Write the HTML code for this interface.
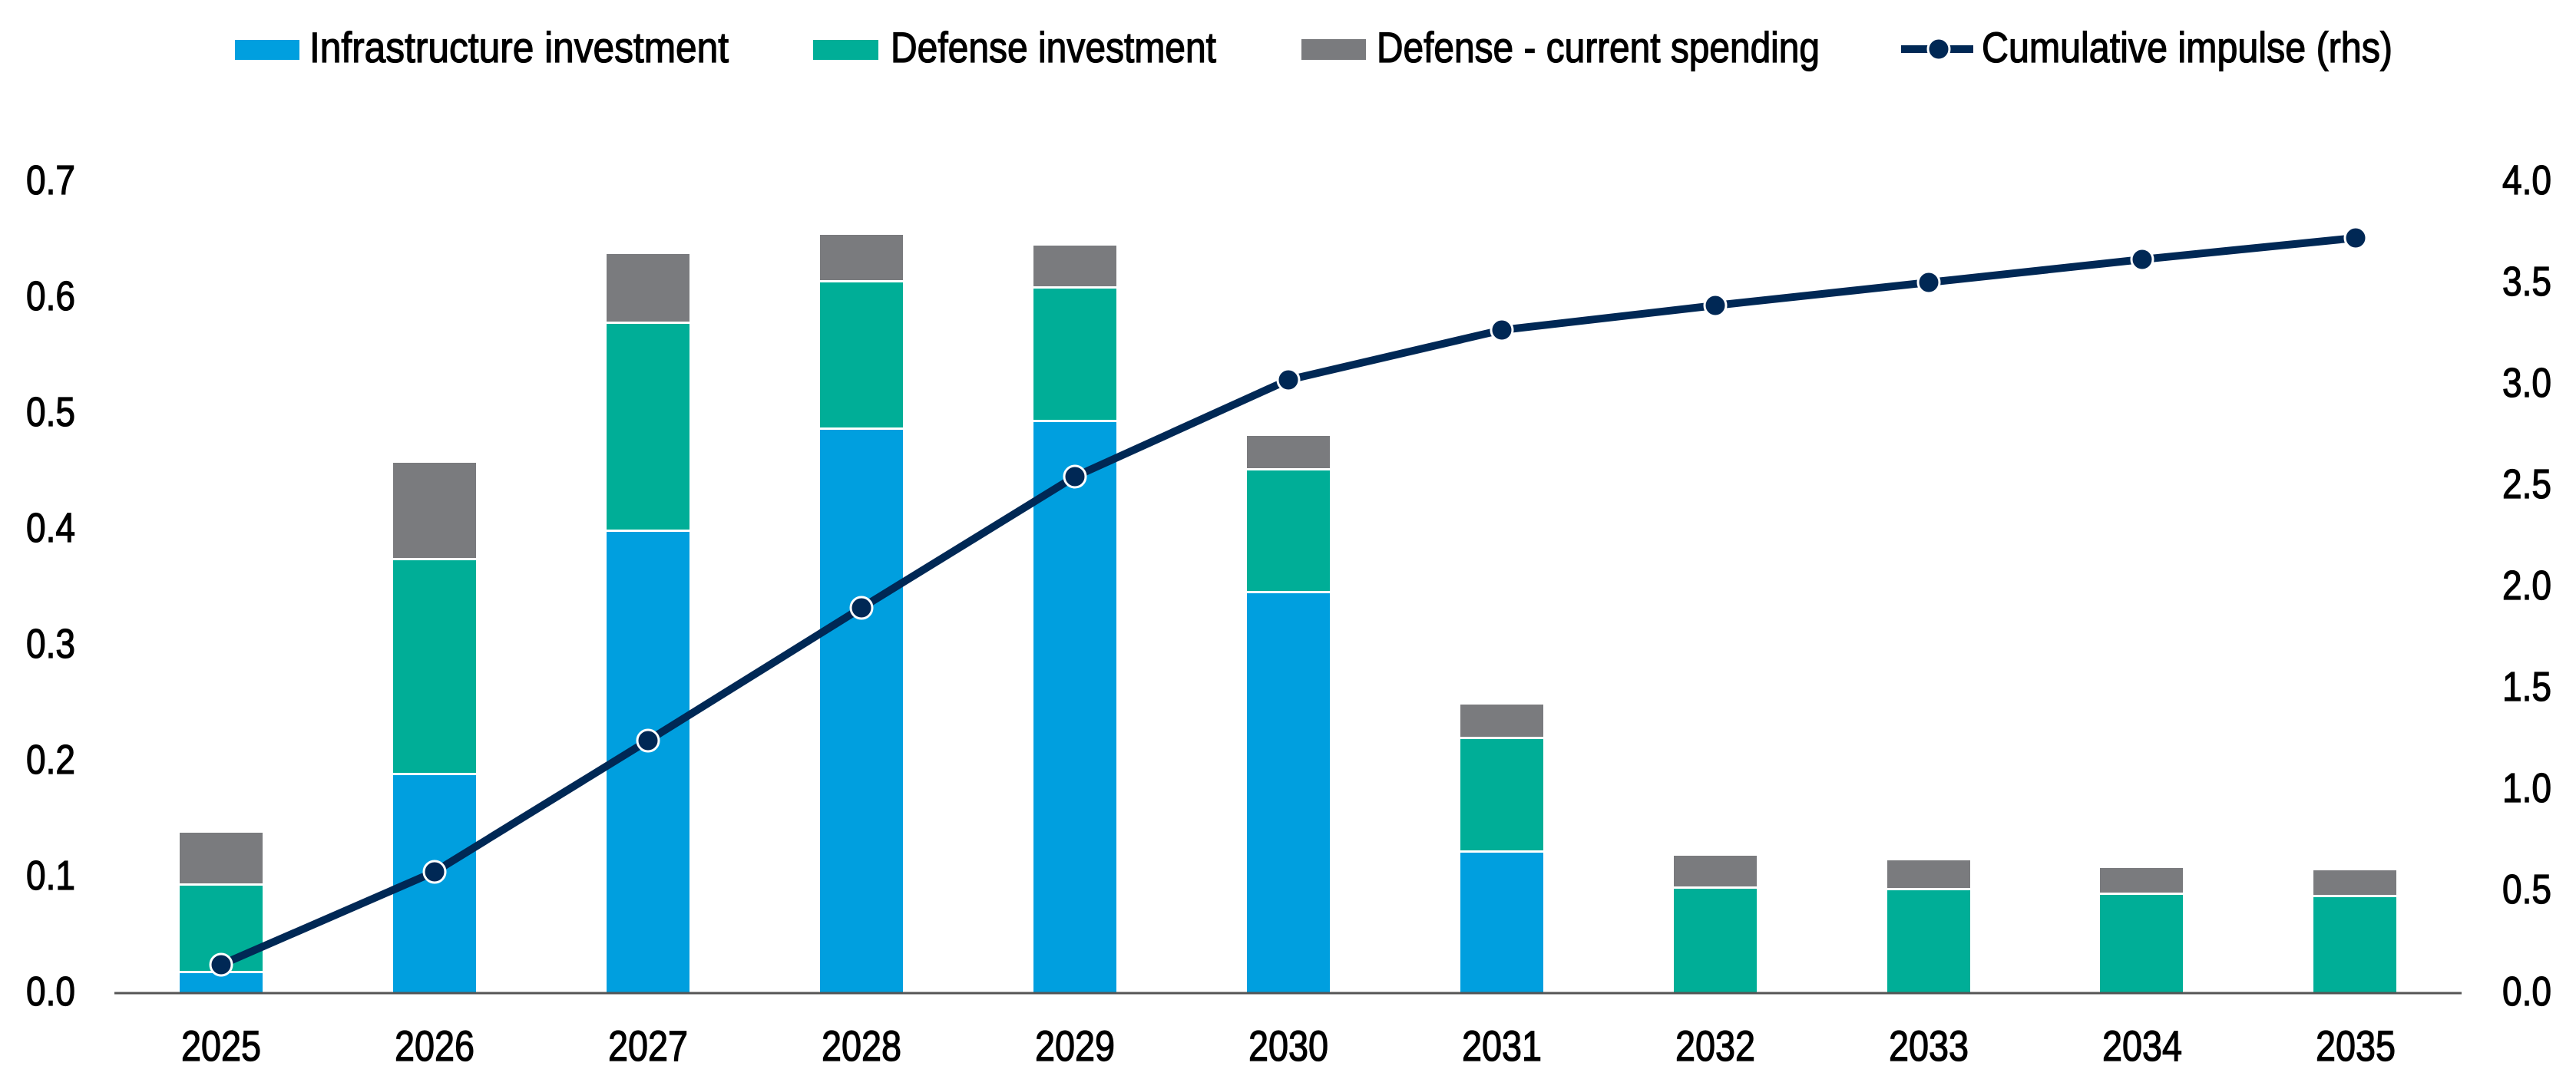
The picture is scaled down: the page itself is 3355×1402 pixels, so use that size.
<!DOCTYPE html>
<html><head><meta charset="utf-8"><style>
html,body{margin:0;padding:0;background:#fff;}
svg{display:block;}
text{font-family:"Liberation Sans",sans-serif;fill:#000;stroke:#000;stroke-width:1.3px;}
</style></head><body>
<svg width="3355" height="1402" viewBox="0 0 3355 1402" xmlns="http://www.w3.org/2000/svg">
<!-- legend -->
<rect x="306" y="52" width="84" height="26" fill="#009FDF"/>
<text x="403" y="81" font-size="56" textLength="546" lengthAdjust="spacingAndGlyphs">Infrastructure investment</text>
<rect x="1059" y="52" width="85" height="26" fill="#00AE97"/>
<text x="1160" y="81" font-size="56" textLength="424" lengthAdjust="spacingAndGlyphs">Defense investment</text>
<rect x="1695" y="51" width="84" height="27" fill="#7A7B7E"/>
<text x="1793" y="81" font-size="56" textLength="577" lengthAdjust="spacingAndGlyphs">Defense - current spending</text>
<line x1="2476" y1="64" x2="2570" y2="64" stroke="#002855" stroke-width="10"/>
<circle cx="2525" cy="64" r="14" fill="#002855" stroke="#fff" stroke-width="3"/>
<text x="2581" y="81" font-size="56" textLength="535" lengthAdjust="spacingAndGlyphs">Cumulative impulse (rhs)</text>

<!-- left axis labels -->
<g font-size="54" text-anchor="start">
<text x="34" y="253" textLength="64" lengthAdjust="spacingAndGlyphs">0.7</text>
<text x="34" y="404" textLength="64" lengthAdjust="spacingAndGlyphs">0.6</text>
<text x="34" y="555" textLength="64" lengthAdjust="spacingAndGlyphs">0.5</text>
<text x="34" y="706" textLength="64" lengthAdjust="spacingAndGlyphs">0.4</text>
<text x="34" y="857" textLength="64" lengthAdjust="spacingAndGlyphs">0.3</text>
<text x="34" y="1008" textLength="64" lengthAdjust="spacingAndGlyphs">0.2</text>
<text x="34" y="1159" textLength="64" lengthAdjust="spacingAndGlyphs">0.1</text>
<text x="34" y="1310" textLength="64" lengthAdjust="spacingAndGlyphs">0.0</text>
</g>
<!-- right axis labels -->
<g font-size="54">
<text x="3259" y="253" textLength="64" lengthAdjust="spacingAndGlyphs">4.0</text>
<text x="3259" y="385" textLength="64" lengthAdjust="spacingAndGlyphs">3.5</text>
<text x="3259" y="517" textLength="64" lengthAdjust="spacingAndGlyphs">3.0</text>
<text x="3259" y="649" textLength="64" lengthAdjust="spacingAndGlyphs">2.5</text>
<text x="3259" y="781" textLength="64" lengthAdjust="spacingAndGlyphs">2.0</text>
<text x="3259" y="913" textLength="64" lengthAdjust="spacingAndGlyphs">1.5</text>
<text x="3259" y="1045" textLength="64" lengthAdjust="spacingAndGlyphs">1.0</text>
<text x="3259" y="1177" textLength="64" lengthAdjust="spacingAndGlyphs">0.5</text>
<text x="3259" y="1310" textLength="64" lengthAdjust="spacingAndGlyphs">0.0</text>
</g>

<g>
<rect x="234" y="1268" width="108" height="25" fill="#009FDF"/>
<rect x="234" y="1154" width="108" height="111" fill="#00AE97"/>
<rect x="234" y="1085" width="108" height="66" fill="#7A7B7E"/>
<rect x="512" y="1010" width="108" height="283" fill="#009FDF"/>
<rect x="512" y="730" width="108" height="277" fill="#00AE97"/>
<rect x="512" y="603" width="108" height="124" fill="#7A7B7E"/>
<rect x="790" y="693" width="108" height="600" fill="#009FDF"/>
<rect x="790" y="422" width="108" height="268" fill="#00AE97"/>
<rect x="790" y="331" width="108" height="88" fill="#7A7B7E"/>
<rect x="1068" y="560" width="108" height="733" fill="#009FDF"/>
<rect x="1068" y="368" width="108" height="189" fill="#00AE97"/>
<rect x="1068" y="306" width="108" height="59" fill="#7A7B7E"/>
<rect x="1346" y="550" width="108" height="743" fill="#009FDF"/>
<rect x="1346" y="376" width="108" height="171" fill="#00AE97"/>
<rect x="1346" y="320" width="108" height="53" fill="#7A7B7E"/>
<rect x="1624" y="773" width="108" height="520" fill="#009FDF"/>
<rect x="1624" y="613" width="108" height="157" fill="#00AE97"/>
<rect x="1624" y="568" width="108" height="42" fill="#7A7B7E"/>
<rect x="1902" y="1111" width="108" height="182" fill="#009FDF"/>
<rect x="1902" y="963" width="108" height="145" fill="#00AE97"/>
<rect x="1902" y="918" width="108" height="42" fill="#7A7B7E"/>
<rect x="2180" y="1158" width="108" height="135" fill="#00AE97"/>
<rect x="2180" y="1115" width="108" height="40" fill="#7A7B7E"/>
<rect x="2458" y="1160" width="108" height="133" fill="#00AE97"/>
<rect x="2458" y="1121" width="108" height="36" fill="#7A7B7E"/>
<rect x="2735" y="1166" width="108" height="127" fill="#00AE97"/>
<rect x="2735" y="1131" width="108" height="32" fill="#7A7B7E"/>
<rect x="3013" y="1169" width="108" height="124" fill="#00AE97"/>
<rect x="3013" y="1134" width="108" height="32" fill="#7A7B7E"/>
</g>

<line x1="149" y1="1294" x2="3206" y2="1294" stroke="#555" stroke-width="3"/>

<g font-size="56" text-anchor="middle">
<text x="288" y="1382" textLength="104" lengthAdjust="spacingAndGlyphs">2025</text>
<text x="566" y="1382" textLength="104" lengthAdjust="spacingAndGlyphs">2026</text>
<text x="844" y="1382" textLength="104" lengthAdjust="spacingAndGlyphs">2027</text>
<text x="1122" y="1382" textLength="104" lengthAdjust="spacingAndGlyphs">2028</text>
<text x="1400" y="1382" textLength="104" lengthAdjust="spacingAndGlyphs">2029</text>
<text x="1678" y="1382" textLength="104" lengthAdjust="spacingAndGlyphs">2030</text>
<text x="1956" y="1382" textLength="104" lengthAdjust="spacingAndGlyphs">2031</text>
<text x="2234" y="1382" textLength="104" lengthAdjust="spacingAndGlyphs">2032</text>
<text x="2512" y="1382" textLength="104" lengthAdjust="spacingAndGlyphs">2033</text>
<text x="2790" y="1382" textLength="104" lengthAdjust="spacingAndGlyphs">2034</text>
<text x="3068" y="1382" textLength="104" lengthAdjust="spacingAndGlyphs">2035</text>
</g>

<polyline fill="none" stroke="#002855" stroke-width="10" stroke-linejoin="round"
 points="288,1257 566,1136 844,965 1122,792 1400,621 1678,495 1956,430 2234,398 2512,368 2790,338 3068,310"/>
<g fill="#002855" stroke="#fff" stroke-width="3">
<circle cx="288" cy="1257" r="14"/>
<circle cx="566" cy="1136" r="14"/>
<circle cx="844" cy="965" r="14"/>
<circle cx="1122" cy="792" r="14"/>
<circle cx="1400" cy="621" r="14"/>
<circle cx="1678" cy="495" r="14"/>
<circle cx="1956" cy="430" r="14"/>
<circle cx="2234" cy="398" r="14"/>
<circle cx="2512" cy="368" r="14"/>
<circle cx="2790" cy="338" r="14"/>
<circle cx="3068" cy="310" r="14"/>
</g>
</svg>
</body></html>
